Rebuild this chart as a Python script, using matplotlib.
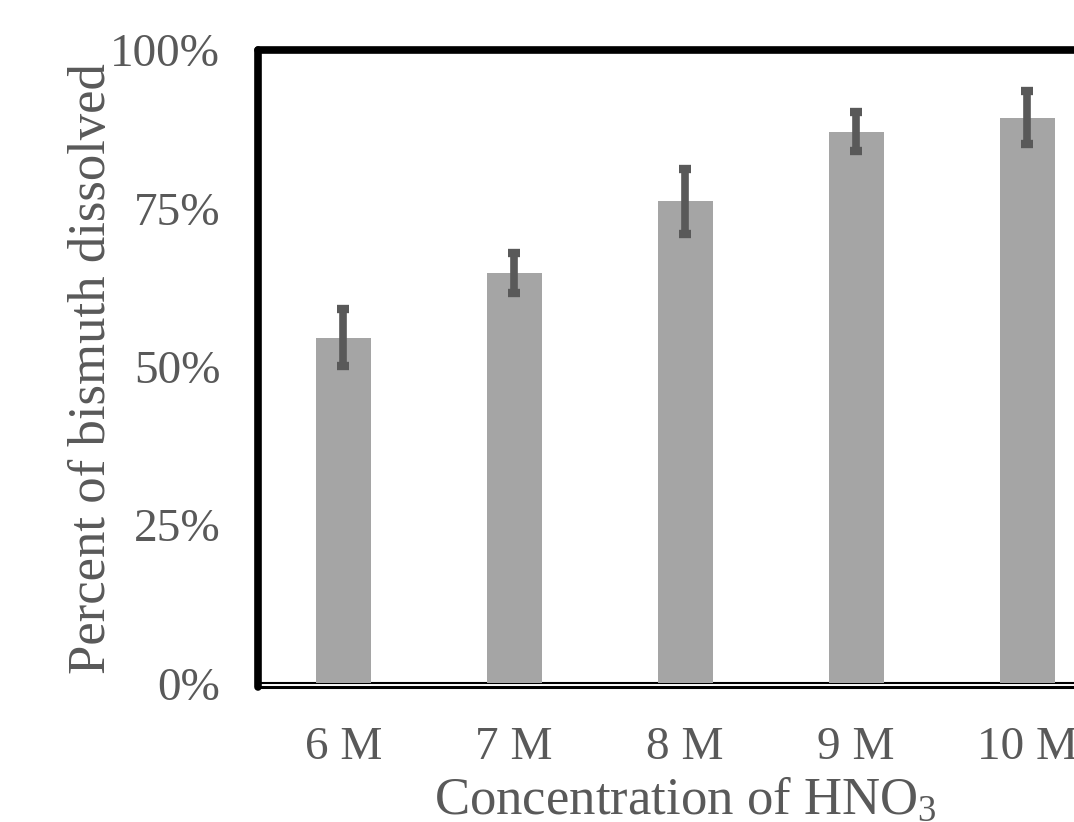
import numpy as np
import matplotlib
matplotlib.use('Agg')
import matplotlib.pyplot as plt
from matplotlib.ticker import PercentFormatter

# data
categories = ['6 M', '7 M', '8 M', '9 M', '10 M']
dissolved = [54.6, 64.8, 76.1, 87.1, 89.3]
errors = [4.5, 3.2, 5.2, 3.1, 4.2]
yticks = [0, 25, 50, 75, 100]

plt.rcParams['font.family'] = ['Liberation Serif', 'DejaVu Serif']
plt.rcParams['mathtext.fontset'] = 'custom'
plt.rcParams['mathtext.rm'] = 'Liberation Serif'
plt.rcParams['mathtext.it'] = 'Liberation Serif:italic'

text_col = '#595959'
bar_col = '#a5a5a5'

fig = plt.figure(figsize=(10.74, 8.22), dpi=100)
ax = fig.add_axes([0.240, 0.164, 0.796, 0.775])

x = np.arange(len(categories))
ax.axhline(0, color='black', lw=1.5, zorder=1)
ax.bar(x, dissolved, width=0.32, color=bar_col, zorder=2)
ax.errorbar(x, dissolved, yerr=errors, fmt='none', ecolor=text_col,
            elinewidth=5.5, capsize=4, capthick=6, zorder=3)

ax.set_xlim(-0.5, 4.5)
ax.set_ylim(-0.6, 100)
ax.set_yticks(yticks)
ax.yaxis.set_major_formatter(PercentFormatter(decimals=0))
ax.set_xticks(x)
ax.set_xticklabels(categories)

ax.tick_params(axis='both', length=0, labelsize=34, colors=text_col)
ax.tick_params(axis='x', pad=28)
ax.tick_params(axis='y', pad=27)

for s in ['top', 'left', 'right']:
    ax.spines[s].set_linewidth(5.5)
    ax.spines[s].set_color('black')
ax.spines['bottom'].set_linewidth(2.2)
ax.spines['bottom'].set_color('black')
for s in ax.spines.values():
    s.set_capstyle('round')
    s.set_joinstyle('round')

ax.set_ylabel('Percent of bismuth dissolved', fontsize=38, color=text_col)
ax.yaxis.set_label_coords(-0.166, 0.5)
ax.set_xlabel(r'Concentration of HNO$_3$', fontsize=38, color=text_col)
ax.xaxis.set_label_coords(0.5, -0.14)

fig.savefig('out.png', dpi=100)
